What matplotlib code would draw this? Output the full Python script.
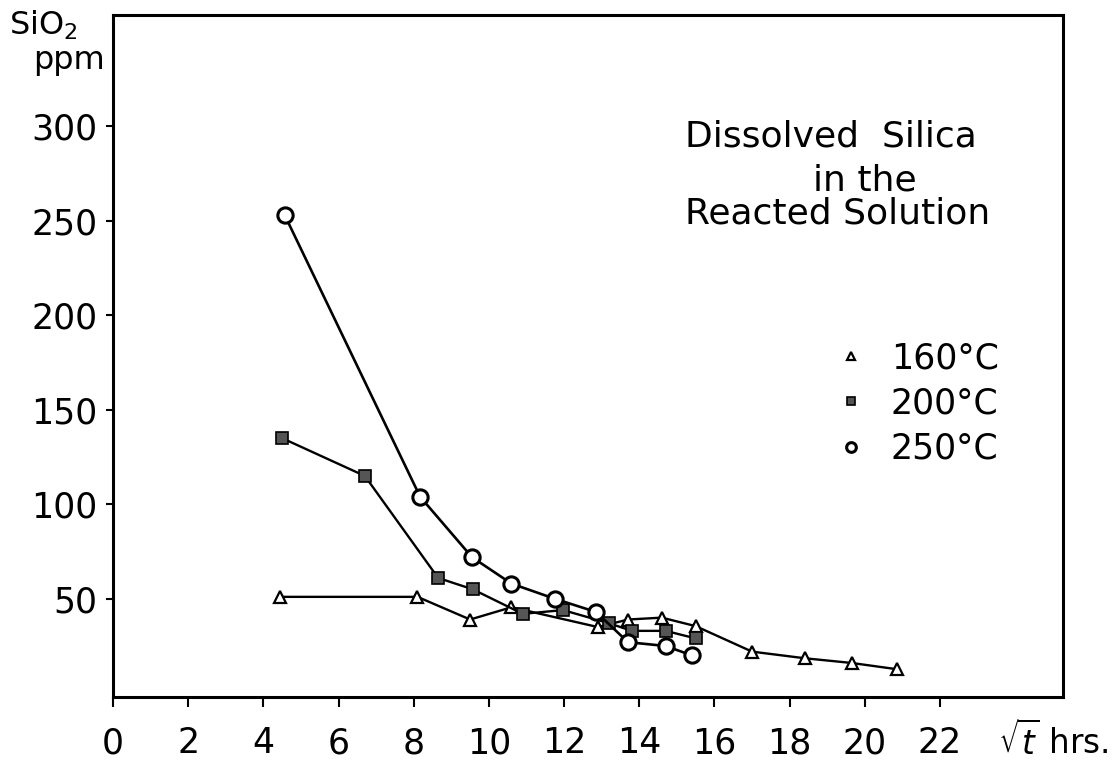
import numpy as np
import matplotlib
matplotlib.use("Agg")
from matplotlib import pyplot as plt
from matplotlib.lines import Line2D

plt.rcParams['font.family'] = ['DejaVu Sans']

# 250 C - open circles
t250 = [4.57, 8.17, 9.55, 10.6, 11.75, 12.85, 13.7, 14.7, 15.4]
s250 = [253, 104, 72, 58, 50, 43, 27, 25, 20]

# 200 C - filled squares
t200 = [4.5, 6.7, 8.65, 9.57, 10.9, 11.97, 13.2, 13.8, 14.7, 15.5]
s200 = [135, 115, 61, 55, 42, 44, 37, 33, 33, 29]

# 160 C - open triangles
t160 = [4.45, 8.1, 9.5, 10.6, 12.9, 13.7, 14.6, 15.5, 17.0, 18.4, 19.65, 20.85]
s160 = [51, 51, 39, 45.5, 35, 39, 40, 35.5, 22, 18.5, 16, 12.7]

xticks = [0, 2, 4, 6, 8, 10, 12, 14, 16, 18, 20, 22]
yticks = [50, 100, 150, 200, 250, 300]
labels = ['160°C', '200°C', '250°C']

fig = plt.figure(figsize=(11.14, 7.67), dpi=100)
ax = fig.add_axes([0.1014, 0.0913, 0.8528, 0.8891])

ax.plot(t160, s160, color='black', lw=1.7, marker='^', ms=9, mfc='white', mec='black', mew=1.6)
ax.plot(t200, s200, color='black', lw=1.7, marker='s', ms=8, mfc='#555555', mec='black', mew=1.2)
ax.plot(t250, s250, color='black', lw=1.9, marker='o', ms=11, mfc='white', mec='black', mew=2.2)

ax.set_xlim(0, 25.27)
ax.set_ylim(-2, 359)
ax.set_xticks(xticks)
ax.set_yticks(yticks)
ax.tick_params(axis='x', direction='out', length=7, width=1.5, labelsize=25, pad=14)
ax.tick_params(axis='y', direction='out', length=5, width=1.5, labelsize=25, pad=6)
for sp in ax.spines.values():
    sp.set_linewidth(2.2)

handles = [
    Line2D([], [], ls='none', marker='^', ms=6, mfc='white', mec='black', mew=1.6),
    Line2D([], [], ls='none', marker='s', ms=6, mfc='#555555', mec='black', mew=1.2),
    Line2D([], [], ls='none', marker='o', ms=7, mfc='white', mec='black', mew=2.2),
]
fig.legend(handles, labels, loc='upper left', bbox_to_anchor=(0.7325, 0.578),
           frameon=False, fontsize=25, labelspacing=0.33, handletextpad=0.65,
           handlelength=1.0, borderpad=0)

fig.text(0.615, 0.822, 'Dissolved  Silica', fontsize=26, va='center')
fig.text(0.73, 0.765, 'in the', fontsize=26, va='center')
fig.text(0.615, 0.722, 'Reacted Solution', fontsize=26, va='center')

fig.text(0.008, 0.967, 'SiO$_2$', fontsize=23, va='center')
fig.text(0.03, 0.921, 'ppm', fontsize=23, va='center')
fig.text(0.896, 0.033, '$\\sqrt{t}$ hrs.', fontsize=23.5, va='center')

fig.savefig('out.png', dpi=100, facecolor='white')
